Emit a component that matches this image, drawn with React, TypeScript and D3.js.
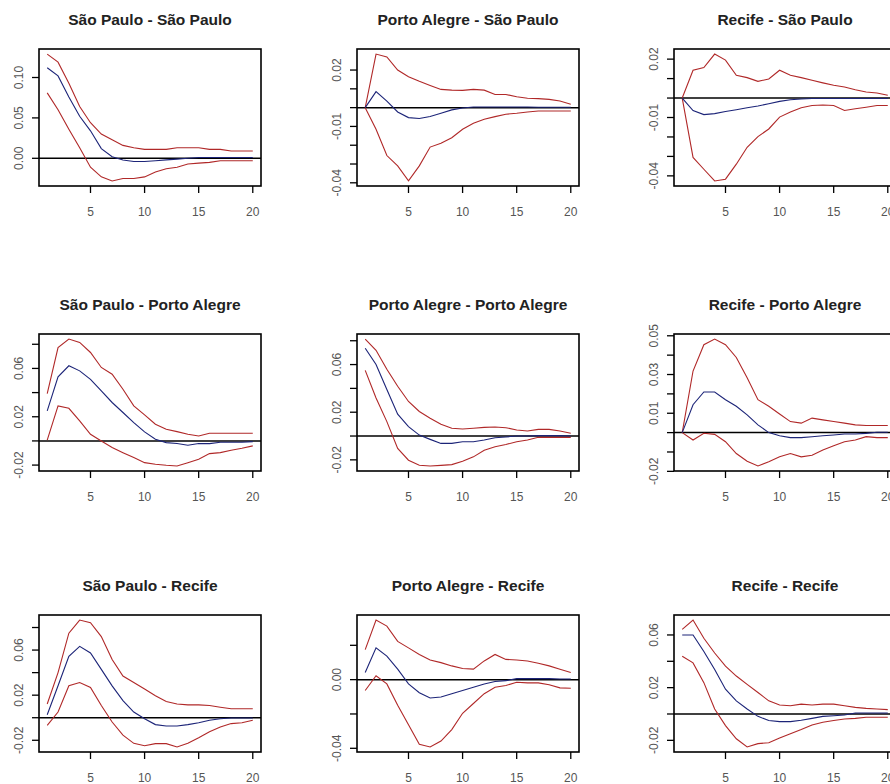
import { useEffect, useRef } from "react";
import * as d3 from "d3";

const W = 890;
const H = 784;
const COL_X = [39, 357, 674];
const ROW_Y = [49, 334, 615];
const BOX_W = 222;
const BOX_H = 137;

const horizons = [1, 2, 3, 4, 5, 6, 7, 8, 9, 10, 11, 12, 13, 14, 15, 16, 17, 18, 19, 20];
const xTicks = [5, 10, 15, 20];

const titles = [
  "São Paulo - São Paulo", "Porto Alegre - São Paulo", "Recife - São Paulo",
  "São Paulo - Porto Alegre", "Porto Alegre - Porto Alegre", "Recife - Porto Alegre",
  "São Paulo - Recife", "Porto Alegre - Recife", "Recife - Recife",
];

// São Paulo - São Paulo
const irfSpSp = [0.112, 0.102, 0.076, 0.052, 0.034, 0.012, 0.002, -0.002, -0.004, -0.004, -0.003, -0.002, -0.001, 0, 0.001, 0.001, 0.001, 0.001, 0.001, 0.001];
const upSpSp = [0.129, 0.119, 0.093, 0.064, 0.044, 0.030, 0.023, 0.016, 0.013, 0.011, 0.011, 0.011, 0.013, 0.013, 0.013, 0.011, 0.011, 0.009, 0.009, 0.009];
const loSpSp = [0.081, 0.060, 0.036, 0.013, -0.011, -0.023, -0.028, -0.025, -0.025, -0.023, -0.017, -0.013, -0.011, -0.007, -0.006, -0.005, -0.003, -0.003, -0.003, -0.003];

// Porto Alegre - São Paulo
const irfPaSp = [0, 0.0085, 0.0035, -0.0023, -0.0053, -0.0058, -0.0047, -0.003, -0.0012, -0.0002, 0.0003, 0.0003, 0.0003, 0.0003, 0.0003, 0.0003, 0.0002, 0.0002, 0.0002, 0.0002];
const upPaSp = [0, 0.0285, 0.027, 0.020, 0.0164, 0.014, 0.0118, 0.0097, 0.0093, 0.0092, 0.0097, 0.0093, 0.007, 0.007, 0.0058, 0.005, 0.0048, 0.0044, 0.0035, 0.0018];
const loPaSp = [0, -0.0115, -0.0255, -0.031, -0.039, -0.031, -0.021, -0.019, -0.016, -0.0115, -0.0083, -0.0062, -0.0048, -0.0035, -0.003, -0.0023, -0.0018, -0.0018, -0.0018, -0.0018];

// Recife - São Paulo
const irfReSp = [0, -0.0064, -0.0085, -0.008, -0.0069, -0.006, -0.005, -0.0041, -0.0029, -0.0017, -0.0009, -0.0005, -0.0002, -0.0002, -0.0002, -0.0002, -0.0002, -0.0002, -0.0002, -0.0002];
const upReSp = [0, 0.0143, 0.0157, 0.0226, 0.0195, 0.0117, 0.0105, 0.0086, 0.0098, 0.0143, 0.0117, 0.0105, 0.0091, 0.0078, 0.0066, 0.0057, 0.0043, 0.0031, 0.0026, 0.0014];
const loReSp = [0, -0.0305, -0.0366, -0.0426, -0.0417, -0.034, -0.0253, -0.0198, -0.0159, -0.0098, -0.0072, -0.005, -0.0038, -0.0036, -0.0038, -0.0064, -0.0055, -0.0047, -0.0038, -0.0038];

// São Paulo - Porto Alegre
const irfSpPa = [0.0249, 0.053, 0.0622, 0.058, 0.051, 0.0414, 0.0318, 0.0235, 0.0152, 0.0075, 0.0014, -0.0014, -0.0022, -0.0036, -0.0022, -0.0022, -0.0011, -0.0011, -0.0011, -0.0006];
const upSpPa = [0.0392, 0.0773, 0.0843, 0.0815, 0.0732, 0.0608, 0.0552, 0.0428, 0.029, 0.0215, 0.0138, 0.0097, 0.0077, 0.0055, 0.0041, 0.0064, 0.0064, 0.0064, 0.0064, 0.0064];
const loSpPa = [0.0006, 0.029, 0.027, 0.0166, 0.0055, 0, -0.0055, -0.0097, -0.0138, -0.018, -0.0193, -0.0202, -0.0207, -0.018, -0.0152, -0.0105, -0.0097, -0.0077, -0.0061, -0.0041];

// Porto Alegre - Porto Alegre
const irfPaPa = [0.0737, 0.060, 0.039, 0.0184, 0.0079, 0.0008, -0.0028, -0.0062, -0.0062, -0.0048, -0.0048, -0.0034, -0.0014, -0.0008, 0, 0, 0.0003, 0.0003, 0.0003, 0];
const upPaPa = [0.0814, 0.072, 0.056, 0.0418, 0.029, 0.0206, 0.015, 0.0099, 0.0065, 0.0059, 0.0065, 0.0073, 0.0076, 0.007, 0.0051, 0.0042, 0.0056, 0.0056, 0.0042, 0.0023];
const loPaPa = [0.0551, 0.0319, 0.0121, -0.0104, -0.0203, -0.0246, -0.0251, -0.0246, -0.024, -0.0212, -0.0175, -0.0119, -0.009, -0.0071, -0.0048, -0.0034, -0.0011, -0.0011, -0.0011, -0.0011];

// Recife - Porto Alegre
const irfRePa = [0, 0.0144, 0.021, 0.021, 0.017, 0.0136, 0.0092, 0.004, 0, -0.0016, -0.0026, -0.0026, -0.0021, -0.0016, -0.0012, -0.0007, -0.0007, -0.0004, 0.0002, 0.0002];
const upRePa = [0, 0.0318, 0.0454, 0.0483, 0.0454, 0.0388, 0.0283, 0.017, 0.0136, 0.0096, 0.0057, 0.0049, 0.0075, 0.0066, 0.0057, 0.0049, 0.004, 0.0037, 0.0037, 0.0037];
const loRePa = [0, -0.0038, -0.0003, -0.0009, -0.0047, -0.0108, -0.0148, -0.0172, -0.0151, -0.0125, -0.0108, -0.0125, -0.0117, -0.009, -0.0068, -0.0047, -0.0038, -0.0021, -0.0026, -0.0026];

// São Paulo - Recife
const irfSpRe = [0.0026, 0.0283, 0.0545, 0.0633, 0.0574, 0.0429, 0.0283, 0.0152, 0.005, -0.0009, -0.0061, -0.0073, -0.0073, -0.0061, -0.0044, -0.0023, -0.0009, -0.0003, -0.0003, -0.0003];
const upSpRe = [0.0122, 0.040, 0.075, 0.0866, 0.0843, 0.072, 0.0516, 0.037, 0.0312, 0.0254, 0.0195, 0.0143, 0.0122, 0.0114, 0.0114, 0.0108, 0.0093, 0.0079, 0.0079, 0.0079];
const loSpRe = [-0.0067, 0.005, 0.0283, 0.0312, 0.0268, 0.0108, -0.0038, -0.0155, -0.0227, -0.0248, -0.023, -0.023, -0.0259, -0.0227, -0.0178, -0.0125, -0.0082, -0.0052, -0.0044, -0.0023];

// Porto Alegre - Recife
const irfPaRe = [0.0042, 0.0185, 0.0137, 0.0061, -0.0025, -0.0076, -0.0107, -0.0101, -0.0082, -0.0063, -0.0044, -0.0025, -0.0011, -0.0006, 0.0006, 0.0006, 0.0006, 0.0006, 0.0004, 0.0004];
const upPaRe = [0.0175, 0.0347, 0.0312, 0.0223, 0.0185, 0.0147, 0.0114, 0.0099, 0.008, 0.0065, 0.0061, 0.0109, 0.0147, 0.0118, 0.0114, 0.0109, 0.0095, 0.008, 0.0061, 0.0042];
const loPaRe = [-0.0063, 0.0023, -0.0025, -0.0149, -0.0263, -0.0377, -0.0392, -0.0358, -0.0291, -0.0196, -0.0139, -0.0082, -0.0044, -0.0034, -0.0015, -0.0019, -0.0019, -0.003, -0.0048, -0.005];

// Recife - Recife
const irfReRe = [0.060, 0.060, 0.0475, 0.0338, 0.0188, 0.010, 0.0038, -0.0018, -0.005, -0.0058, -0.0058, -0.0048, -0.0033, -0.0018, -0.0013, -0.0008, 0.0008, 0.0008, 0.0008, 0.0008];
const upReRe = [0.0643, 0.0713, 0.0575, 0.0463, 0.0363, 0.0288, 0.0225, 0.0163, 0.010, 0.0068, 0.0063, 0.0075, 0.0068, 0.0075, 0.0075, 0.0063, 0.005, 0.0043, 0.0038, 0.0033];
const loReRe = [0.0438, 0.0388, 0.0238, 0.0038, -0.0088, -0.0188, -0.025, -0.0225, -0.0218, -0.0183, -0.015, -0.0118, -0.0083, -0.0063, -0.005, -0.0038, -0.0033, -0.0025, -0.0025, -0.0025];

// y ticks and which of them carry a label (R drops overlapping labels)
const yTicks = [
  [0, 0.05, 0.10],
  [-0.04, -0.03, -0.02, -0.01, 0, 0.01, 0.02],
  [-0.04, -0.03, -0.02, -0.01, 0, 0.01, 0.02],
  [-0.02, 0, 0.02, 0.04, 0.06, 0.08],
  [-0.02, 0, 0.02, 0.04, 0.06, 0.08],
  [-0.02, -0.01, 0, 0.01, 0.02, 0.03, 0.04, 0.05],
  [-0.02, 0, 0.02, 0.04, 0.06, 0.08],
  [-0.04, -0.02, 0, 0.02],
  [-0.02, 0, 0.02, 0.04, 0.06],
];
const yLabels = [
  [0, 0.05, 0.10],
  [-0.04, -0.01, 0.02],
  [-0.04, -0.01, 0.02],
  [-0.02, 0.02, 0.06],
  [-0.02, 0.02, 0.06],
  [-0.02, 0.01, 0.03, 0.05],
  [-0.02, 0.02, 0.06],
  [-0.04, 0],
  [-0.02, 0.02, 0.06],
];

const irfs = [irfSpSp, irfPaSp, irfReSp, irfSpPa, irfPaPa, irfRePa, irfSpRe, irfPaRe, irfReRe];
const uppers = [upSpSp, upPaSp, upReSp, upSpPa, upPaPa, upRePa, upSpRe, upPaRe, upReRe];
const lowers = [loSpSp, loPaSp, loReSp, loSpPa, loPaPa, loRePa, loSpRe, loPaRe, loReRe];

const FONT = "'Liberation Sans', Arial, Helvetica, sans-serif";
const RED = "#b02828";
const BLUE = "#1c2478";

export default function App() {
  const svgRef = useRef<SVGSVGElement>(null);

  useEffect(() => {
    if (!svgRef.current) return;
    const root = d3.select(svgRef.current);
    root.selectAll("*").remove();

    root.append("rect").attr("width", W).attr("height", H).attr("fill", "#fff");

    titles.forEach((title, i) => {
      const x0 = COL_X[i % 3];
      const y0 = ROW_Y[Math.floor(i / 3)];
      const g = root.append("g").attr("transform", `translate(${x0},${y0})`);

      // R style axis limits: data range padded by 4%
      const all = [...irfs[i], ...uppers[i], ...lowers[i]];
      const [mn, mx] = d3.extent(all) as [number, number];
      const pad = (mx - mn) * 0.04;
      const x = d3.scaleLinear().domain([1 - 19 * 0.04, 20 + 19 * 0.04]).range([0, BOX_W]);
      const y = d3.scaleLinear().domain([mn - pad, mx + pad]).range([BOX_H, 0]);

      const clipId = `clip${i}`;
      g.append("clipPath").attr("id", clipId)
        .append("rect").attr("width", BOX_W).attr("height", BOX_H);

      // title
      g.append("text")
        .attr("x", BOX_W / 2).attr("y", -24)
        .attr("text-anchor", "middle")
        .attr("font-family", FONT).attr("font-weight", "bold").attr("font-size", 15.5)
        .attr("fill", "#222")
        .text(title);

      // zero line
      g.append("line")
        .attr("x1", 0).attr("x2", BOX_W)
        .attr("y1", y(0)).attr("y2", y(0))
        .attr("stroke", "#000").attr("stroke-width", 1.5);

      const line = d3.line<number>()
        .x((_, k) => x(horizons[k]))
        .y(d => y(d));

      const plot = g.append("g").attr("clip-path", `url(#${clipId})`);
      [uppers[i], lowers[i]].forEach(s => {
        plot.append("path").datum(s)
          .attr("fill", "none").attr("stroke", RED).attr("stroke-width", 1.1)
          .attr("d", line);
      });
      plot.append("path").datum(irfs[i])
        .attr("fill", "none").attr("stroke", BLUE).attr("stroke-width", 1.1)
        .attr("d", line);

      // box
      g.append("rect")
        .attr("width", BOX_W).attr("height", BOX_H)
        .attr("fill", "none").attr("stroke", "#000").attr("stroke-width", 1.6);

      // x axis
      const xa = g.append("g").attr("transform", `translate(0,${BOX_H})`);
      xTicks.forEach(t => {
        xa.append("line").attr("x1", x(t)).attr("x2", x(t)).attr("y1", 0).attr("y2", 7)
          .attr("stroke", "#000").attr("stroke-width", 1.3);
        xa.append("text").attr("x", x(t)).attr("y", 30)
          .attr("text-anchor", "middle")
          .attr("font-family", FONT).attr("font-size", 12).attr("fill", "#555")
          .text(String(t));
      });

      // y axis
      yTicks[i].forEach(t => {
        g.append("line").attr("x1", -7).attr("x2", 0).attr("y1", y(t)).attr("y2", y(t))
          .attr("stroke", "#000").attr("stroke-width", 1.3);
      });
      yLabels[i].forEach(t => {
        g.append("text")
          .attr("transform", `translate(-16,${y(t)}) rotate(-90)`)
          .attr("text-anchor", "middle")
          .attr("font-family", FONT).attr("font-size", 12).attr("fill", "#555")
          .text(t.toFixed(2));
      });
    });
  }, []);

  return (
    <svg
      ref={svgRef}
      width={W}
      height={H}
      style={{ position: "absolute", left: 0, top: 0, display: "block" }}
    />
  );
}
